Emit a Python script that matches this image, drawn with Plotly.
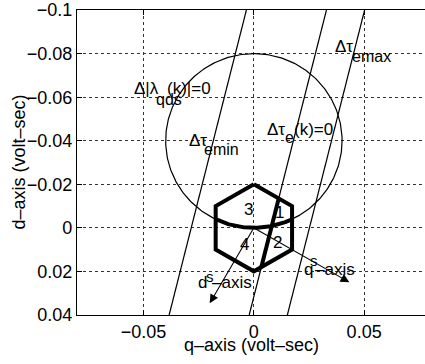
import numpy as np
import plotly.graph_objects as go

FONT = "Liberation Sans, Arial, Helvetica, sans-serif"

# Flux circle (q, d centre and radius, volt-sec)
circle_center = [0.0, -0.04]
circle_radius = 0.04

# Voltage hexagon: vertex radius and vertex angles (deg, measured towards -d)
hex_radius = 0.02
hex_angles = [90, 30, -30, -90, -150, 150]

# Torque lines q = q0 + slope * d  (Δτemin, Δτe(k)=0, Δτemax)
torque_q0 = [-0.0284, 0.0079, 0.0252]
torque_slope = -0.25
zero_torque_index = 1

# Stationary frame axes: angle below the q axis and drawn lengths
stator_angle_deg = 30
qs_length = 0.05
ds_length = 0.04

# Axis ticks
x_ticks = [-0.05, 0.0, 0.05]
x_labels = ["−0.05", "0", "0.05"]
y_ticks = [-0.1, -0.08, -0.06, -0.04, -0.02, 0.0, 0.02, 0.04]
y_labels = ["−0.1", "−0.08", "−0.06", "−0.04", "−0.02", "0", "0.02", "0.04"]
x_range = [-0.0802, 0.0776]
y_range = [0.04005, -0.10005]

# Region numbers inside the hexagon
region_labels = ["3", "1", "4", "2"]
region_q = [-0.0024, 0.0116, -0.0042, 0.0106]
region_d = [-0.0083, -0.0069, 0.0076, 0.0067]

fig = go.Figure()
thin = dict(color="black", width=1.2)
thick = dict(color="black", width=4)

# flux circle
t = np.linspace(0, 2 * np.pi, 361)
cq = circle_center[0] + circle_radius * np.cos(t)
cd = circle_center[1] + circle_radius * np.sin(t)
fig.add_trace(go.Scatter(x=cq, y=cd, mode="lines", line=thin, hoverinfo="skip"))

# torque lines across the full d range
d_end = np.array([min(y_range), max(y_range)])
for q0 in torque_q0:
    fig.add_trace(go.Scatter(x=q0 + torque_slope * d_end, y=d_end, mode="lines",
                             line=thin, hoverinfo="skip"))

# hexagon
a = np.radians(hex_angles + hex_angles[:1])
hq = hex_radius * np.cos(a)
hd = -hex_radius * np.sin(a)
fig.add_trace(go.Scatter(x=hq, y=hd, mode="lines", line=thick, hoverinfo="skip"))

# circle arc lying inside the hexagon (between its vertical sides)
half_w = hex_radius * np.cos(np.radians(30))
aq = np.linspace(-half_w, half_w, 80)
ad = circle_center[1] + np.sqrt(circle_radius ** 2 - (aq - circle_center[0]) ** 2)
fig.add_trace(go.Scatter(x=aq, y=ad, mode="lines", line=thick, hoverinfo="skip"))

# zero-torque line clipped to the hexagon
q0 = torque_q0[zero_torque_index]
hits = []
for i in range(6):
    p1 = np.array([hq[i], hd[i]])
    p2 = np.array([hq[i + 1], hd[i + 1]])
    # solve p1 + u (p2 - p1) on the line q - slope*d = q0
    f1 = p1[0] - torque_slope * p1[1] - q0
    f2 = p2[0] - torque_slope * p2[1] - q0
    if f1 == f2:
        continue
    u = f1 / (f1 - f2)
    if 0 <= u <= 1:
        hits.append(p1 + u * (p2 - p1))
hits = sorted(hits, key=lambda p: p[1])
fig.add_trace(go.Scatter(x=[hits[0][0], hits[-1][0]], y=[hits[0][1], hits[-1][1]],
                         mode="lines", line=thick, hoverinfo="skip"))

# stationary axes arrows
ang = np.radians(stator_angle_deg)
qs_tip = (qs_length * np.cos(ang), qs_length * np.sin(ang))
ds_tip = (-ds_length * np.sin(ang), ds_length * np.cos(ang))
for tip in (qs_tip, ds_tip):
    fig.add_annotation(x=tip[0], y=tip[1], ax=0, ay=0, axref="x", ayref="y",
                       xref="x", yref="y", text="", showarrow=True,
                       arrowhead=2, arrowsize=1.6, arrowwidth=1.1,
                       arrowcolor="black", standoff=0, startstandoff=0)


def label(text, q, d, size=17, anchor="left"):
    fig.add_annotation(x=q, y=d, xref="x", yref="y", text=text, showarrow=False,
                       xanchor=anchor, yanchor="middle",
                       font=dict(family=FONT, size=size, color="black"))


label("Δ|λ", -0.0552, -0.0640)
label("qds", -0.0452, -0.0588, size=16)
label("(k)|=0", -0.0185, -0.0640, anchor="right")
label("Δτ", 0.0360, -0.0832)
label("emax", 0.0434, -0.0787, size=16)
label("Δτ", -0.0301, -0.0402)
label("emin", -0.0233, -0.0359, size=16)
label("Δτ", 0.0050, -0.0451)
label("e", 0.0133, -0.0414, size=16)
label("(k)=0", 0.0171, -0.0451)
label("q", 0.0216, 0.0193)
label("s", 0.0244, 0.0150, size=15)
label("–axis", 0.0268, 0.0193)
label("d", -0.0262, 0.0250)
label("s", -0.0224, 0.0224, size=15)
label("–axis", -0.0198, 0.0250)
for txt, q, d in zip(region_labels, region_q, region_d):
    label(txt, q, d, anchor="center")

# axis titles
fig.add_annotation(text="q–axis (volt–sec)", xref="paper", yref="paper", x=0.5, y=0,
                   xanchor="center", yanchor="middle", yshift=-30, showarrow=False,
                   font=dict(family=FONT, size=18, color="black"))
fig.add_annotation(text="d–axis (volt–sec)", xref="paper", yref="paper", x=0, y=0.5,
                   xanchor="center", yanchor="middle", xshift=-59, textangle=-90,
                   showarrow=False, font=dict(family=FONT, size=18, color="black"))

axis_common = dict(showgrid=True, gridcolor="#333", griddash="dot", gridwidth=1,
                   zeroline=False, showline=True, linecolor="black", linewidth=1.3,
                   ticks="inside", ticklen=5, tickcolor="black",
                   ticklabeloverflow="allow",
                   tickfont=dict(family=FONT, size=18, color="black"))
fig.update_xaxes(range=x_range, tickvals=x_ticks, ticktext=x_labels, mirror="ticks",
                 **axis_common)
fig.update_yaxes(range=y_range, tickvals=y_ticks, ticktext=y_labels, mirror=False,
                 **axis_common)
fig.update_layout(width=425, height=364, margin=dict(l=77, r=0, t=6, b=49),
                  plot_bgcolor="white", paper_bgcolor="white", showlegend=False,
                  font=dict(family=FONT, size=17, color="black"))
fig.write_html("out.html")
